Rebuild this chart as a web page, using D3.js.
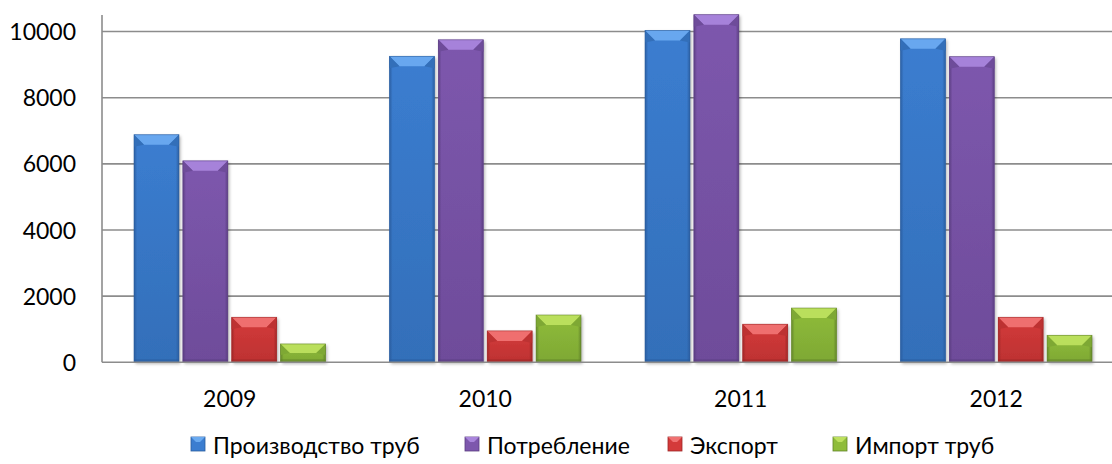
<!DOCTYPE html>
<html>
<head>
<meta charset="utf-8">
<script src="https://cdn.jsdelivr.net/npm/d3@7/dist/d3.min.js"></script>
<style>
  html, body { margin: 0; padding: 0; background: #fff; }
  svg { display: block; }
  text { font-family: Lato, "Open Sans", sans-serif; fill: #000; }
</style>
</head>
<body>
<svg id="chart" width="1112" height="464"></svg>
<script>
// ---- data ----
const categories = ["2009", "2010", "2011", "2012"];
const seriesNames = ["Производство труб", "Потребление", "Экспорт", "Импорт труб"];
const production  = [6880, 9250, 10030, 9780];
const consumption = [6090, 9750, 10510, 9240];
const exportVals  = [1360, 950, 1150, 1360];
const importVals  = [555, 1430, 1640, 815];
const yTicks = [0, 2000, 4000, 6000, 8000, 10000];

(function () {
const seriesValues = [production, consumption, exportVals, importVals];
const colors = [
  {main: "#3b7dd0", light: "#6aaaf0", dark: "#2a5c9e", side: "#336fb9"},
  {main: "#7d57ad", light: "#a985dc", dark: "#5a3d80", side: "#6e4c9a"},
  {main: "#d43a3a", light: "#f07272", dark: "#9e2727", side: "#bd3232"},
  {main: "#8fbc3a", light: "#bde05e", dark: "#62842a", side: "#7ea834"}
];

const svg = d3.select("#chart");
const W = 1112;
const plotLeft = 102, plotBottom = 362.3, plotTop = 15;

const x0 = d3.scaleBand().domain(categories).range([plotLeft, 1124]).padding(0);
const x1 = d3.scaleBand().domain(seriesNames).range([32, x0.bandwidth() - 32]).paddingInner(0.08);
const y = d3.scaleLinear().domain([0, 10500]).range([plotBottom, plotTop]);

const defs = svg.append("defs");
colors.forEach((c, i) => {
  const g = defs.append("linearGradient").attr("id", "body" + i)
    .attr("x1", 0).attr("y1", 0).attr("x2", 0).attr("y2", 1);
  g.append("stop").attr("offset", "0%").attr("stop-color", c.main);
  g.append("stop").attr("offset", "100%").attr("stop-color", c.side);
  const s = defs.append("linearGradient").attr("id", "sides" + i)
    .attr("x1", 0).attr("y1", 0).attr("x2", 1).attr("y2", 0);
  s.append("stop").attr("offset", "0%").attr("stop-color", c.dark).attr("stop-opacity", 0.9);
  s.append("stop").attr("offset", "7%").attr("stop-color", c.dark).attr("stop-opacity", 0.0);
  s.append("stop").attr("offset", "93%").attr("stop-color", c.dark).attr("stop-opacity", 0.0);
  s.append("stop").attr("offset", "100%").attr("stop-color", c.dark).attr("stop-opacity", 0.9);
});
const shadow = defs.append("filter").attr("id", "shadow").attr("x", "-20%").attr("y", "-20%").attr("width", "140%").attr("height", "140%");
shadow.append("feDropShadow").attr("dx", 1.5).attr("dy", 1.5).attr("stdDeviation", 1.5).attr("flood-color", "#000").attr("flood-opacity", 0.3);

// gridlines
svg.append("g").selectAll("line").data(yTicks.filter(d => d > 0)).join("line")
  .attr("x1", plotLeft).attr("x2", W).attr("y1", d => y(d)).attr("y2", d => y(d))
  .attr("stroke", "#8c8c8c").attr("stroke-width", 1.6);

// y axis
const yAxis = d3.axisLeft(y).tickValues(yTicks).tickSize(0).tickPadding(26).tickFormat(d3.format("d"));
const yg = svg.append("g").attr("transform", `translate(${plotLeft},0)`).call(yAxis);
yg.select(".domain").remove();
yg.selectAll("text").attr("font-size", 23).attr("font-family", "Lato, 'Open Sans', sans-serif").attr("dy", "0.35em");

// bars
function bevelBar(g, bx, by, bw, bh, i) {
  const c = colors[i];
  const d = Math.min(10, bh / 2);
  g.append("rect").attr("x", bx).attr("y", by).attr("width", bw).attr("height", bh)
    .attr("fill", `url(#body${i})`).attr("filter", "url(#shadow)");
  g.append("rect").attr("x", bx).attr("y", by).attr("width", bw).attr("height", bh)
    .attr("fill", `url(#sides${i})`);
  g.append("polygon").attr("points", [[bx, by], [bx + bw, by], [bx + bw - d, by + d], [bx + d, by + d]].map(p => p.join(",")).join(" "))
    .attr("fill", c.light).attr("opacity", 0.95);
  g.append("polygon").attr("points", [[bx, by], [bx + d, by + d], [bx, by + d + 2]].map(p => p.join(",")).join(" "))
    .attr("fill", c.side);
  g.append("polygon").attr("points", [[bx + bw, by], [bx + bw - d, by + d], [bx + bw, by + d + 2]].map(p => p.join(",")).join(" "))
    .attr("fill", c.side);
  g.append("rect").attr("x", bx).attr("y", by + bh - 3).attr("width", bw).attr("height", 3)
    .attr("fill", c.dark).attr("opacity", 0.6);
  g.append("rect").attr("x", bx).attr("y", by).attr("width", bw).attr("height", bh)
    .attr("fill", "none").attr("stroke", c.dark).attr("stroke-width", 0.8).attr("stroke-opacity", 0.7);
}

const groups = svg.append("g").selectAll("g").data(categories).join("g")
  .attr("transform", d => `translate(${x0(d)},0)`);
groups.each(function(cat, ci) {
  const g = d3.select(this);
  seriesNames.forEach((s, si) => {
    const v = seriesValues[si][ci];
    bevelBar(g, x1(s), y(v), x1.bandwidth(), y(0) - y(v), si);
  });
});

// axis lines
svg.append("line").attr("x1", plotLeft).attr("x2", plotLeft).attr("y1", plotTop).attr("y2", plotBottom)
  .attr("stroke", "#8c8c8c").attr("stroke-width", 1.6);
svg.append("line").attr("x1", plotLeft).attr("x2", W).attr("y1", plotBottom).attr("y2", plotBottom)
  .attr("stroke", "#8c8c8c").attr("stroke-width", 1.6);

// x axis labels
const xAxis = d3.axisBottom(x0).tickSize(0).tickPadding(45);
const xg = svg.append("g").attr("transform", `translate(0,${plotBottom})`).call(xAxis);
xg.select(".domain").remove();
xg.selectAll("text").attr("font-size", 23).attr("font-family", "Lato, 'Open Sans', sans-serif").attr("dy", "0");

// legend
const legendX = [191, 465, 668, 833];
const lg = svg.append("g");
seriesNames.forEach((s, i) => {
  const c = colors[i];
  const it = lg.append("g").attr("transform", `translate(${legendX[i]},437)`);
  it.append("rect").attr("width", 14).attr("height", 14).attr("fill", c.main).attr("stroke", c.dark).attr("stroke-width", 0.8);
  it.append("polygon").attr("points", "0,0 14,0 9,5 5,5").attr("fill", c.light);
  it.append("text").attr("x", 22).attr("y", 17).attr("font-size", 23).text(s);
});
})();
</script>
</body>
</html>
